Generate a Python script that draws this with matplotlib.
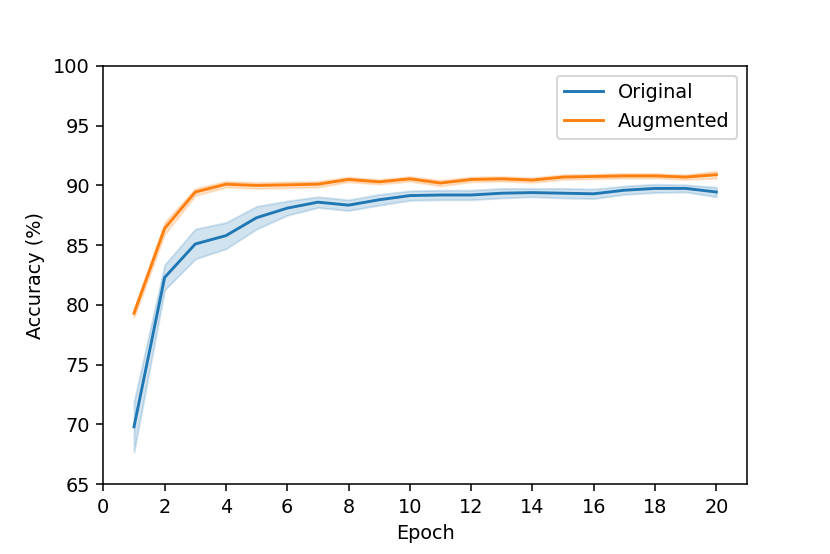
"""Accuracy per epoch, original vs augmented training data."""

import numpy as np
import matplotlib

matplotlib.use("Agg")
import matplotlib.pyplot as plt

epochs = list(range(1, 21))

original_mean = [69.8, 82.3, 85.1, 85.8, 87.3, 88.1, 88.6, 88.35, 88.8, 89.15,
                 89.2, 89.2, 89.35, 89.4, 89.35, 89.3, 89.6, 89.75, 89.75, 89.45]
original_spread = [2.1, 1.05, 1.25, 1.1, 0.95, 0.6, 0.45, 0.45, 0.45, 0.4,
                   0.4, 0.4, 0.4, 0.35, 0.4, 0.4, 0.35, 0.35, 0.3, 0.4]

augmented_mean = [79.3, 86.4, 89.45, 90.1, 90.0, 90.05, 90.1, 90.5, 90.3, 90.55,
                  90.2, 90.5, 90.55, 90.45, 90.7, 90.75, 90.8, 90.8, 90.7, 90.9]
augmented_spread = [0.35, 0.5, 0.3, 0.25, 0.25, 0.25, 0.25, 0.2, 0.2, 0.2,
                    0.25, 0.2, 0.2, 0.2, 0.2, 0.2, 0.2, 0.2, 0.2, 0.3]

series = [
    ("Original", original_mean, original_spread, "#1f77b4"),
    ("Augmented", augmented_mean, augmented_spread, "#ff7f0e"),
]

DPI = 138.33
fig, ax = plt.subplots(figsize=(830 / DPI, 554 / DPI), dpi=DPI)
fig.subplots_adjust(left=0.1245, right=0.9, bottom=0.126, top=0.881)

for label, mean, spread, color in series:
    mean = np.asarray(mean)
    spread = np.asarray(spread)
    ax.fill_between(epochs, mean - spread, mean + spread, color=color, alpha=0.2, linewidth=1)
    ax.plot(epochs, mean, color=color, linewidth=1.5, label=label)

ax.set_xlim(0, 21)
ax.set_ylim(65, 100)
ax.set_xticks(range(0, 21, 2))
ax.set_xlabel("Epoch")
ax.set_ylabel("Accuracy (%)")
ax.legend(loc="upper right")

fig.savefig("out.png", dpi=DPI)
plt.close(fig)
